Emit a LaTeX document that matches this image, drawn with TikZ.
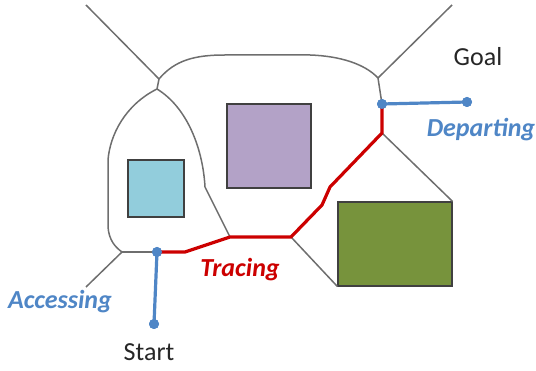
\documentclass[tikz,border=0pt]{standalone}
\usepackage{fontspec}
\setmainfont{Carlito}
\definecolor{pathblue}{RGB}{79,134,198}
\definecolor{pathred}{RGB}{204,0,0}
\definecolor{edgegray}{RGB}{110,110,110}
\definecolor{boxcyan}{RGB}{146,205,220}
\definecolor{boxpurple}{RGB}{179,162,199}
\definecolor{boxgreen}{RGB}{119,147,60}
\tikzset{
  voronoi/.style={draw=edgegray, line width=1.5pt},
  trace/.style={draw=pathred, line width=3.2pt, line join=round},
  link/.style={draw=pathblue, line width=3.2pt},
  dot/.style={circle, fill=pathblue, inner sep=0pt, minimum size=10pt},
  obstacle/.style={draw=black!75, line width=1.1pt, inner sep=0pt},
  plain/.style={font=\fontsize{26}{30}\selectfont, text=black!85},
  phase/.style={font=\fontsize{26}{30}\selectfont\bfseries\itshape}
}
\begin{document}
\begin{tikzpicture}[x=1pt, y=-1pt]
\useasboundingbox (0,0) rectangle (536,371);

% obstacles
\node[obstacle, fill=boxcyan, minimum width=56pt, minimum height=57pt] (cyanbox) at (156,188.5) {};
\node[obstacle, fill=boxpurple, minimum width=84pt, minimum height=84pt] (purplebox) at (269,146) {};
\node[obstacle, fill=boxgreen, minimum width=114pt, minimum height=84pt] (greenbox) at (395,244) {};

% roadmap vertices
\coordinate (tl) at (86,5);
\coordinate (v1) at (159,79);
\coordinate (v2) at (157,89);
\coordinate (tr) at (452,5);
\coordinate (v3) at (378,78);
\coordinate (r1) at (382,133);
\coordinate (r2) at (330,187);
\coordinate (r3) at (322,205);
\coordinate (r4) at (291,237);
\coordinate (r5) at (230,237);
\coordinate (r6) at (185,252);
\coordinate (lb) at (122,252);
\coordinate (ll) at (86,287);
\coordinate (lk) at (205,187);

% generalized Voronoi edges
\draw[voronoi] (tl) -- (v1) -- (v2);
\draw[voronoi] (v1) .. controls (175,60) and (195,55) .. (225,55) -- (310,55)
  .. controls (340,56) and (365,64) .. (v3);
\draw[voronoi] (tr) -- (v3);
\draw[voronoi] (v2) .. controls (125,105) and (110,135) .. (108,160) -- (108,227)
  .. controls (109,240) and (115,247) .. (lb);
\draw[voronoi] (v2) .. controls (188,108) and (203,150) .. (lk) -- (r5);
\draw[voronoi] (ll) -- (lb);
\draw[voronoi] (r1) -- (greenbox.north east);
\draw[voronoi] (r4) -- (greenbox.south west);

% start and goal connections
\node[dot] (sdot) at (157,252) {};
\node[dot] (start) at (154,324) {};
\node[dot] (gdot) at (382,104) {};
\node[dot] (goal) at (467,102) {};
\draw[voronoi] (lb) -- (sdot.center);
\draw[voronoi] (v3) -- (gdot.center);

% traced path along the roadmap
\draw[trace] (sdot.center) -- (r6) -- (r5) -- (r4) -- (r3) -- (r2) -- (r1) -- (gdot.center);

\draw[link] (sdot.center) -- (start.center);
\draw[link] (gdot.center) -- (goal.center);
\node[dot] at (sdot) {};
\node[dot] at (start) {};
\node[dot] at (gdot) {};
\node[dot] at (goal) {};

% labels
\node[plain] (goallabel) at (478,57) {Goal};
\node[plain] (startlabel) at (149,352) {Start};
\node[phase, text=pathblue] (departing) at (481,130) {Departing};
\node[phase, text=pathblue] (accessing) at (60,302) {Accessing};
\node[phase, text=pathred] (tracing) at (240,270) {Tracing};
\end{tikzpicture}
\end{document}
